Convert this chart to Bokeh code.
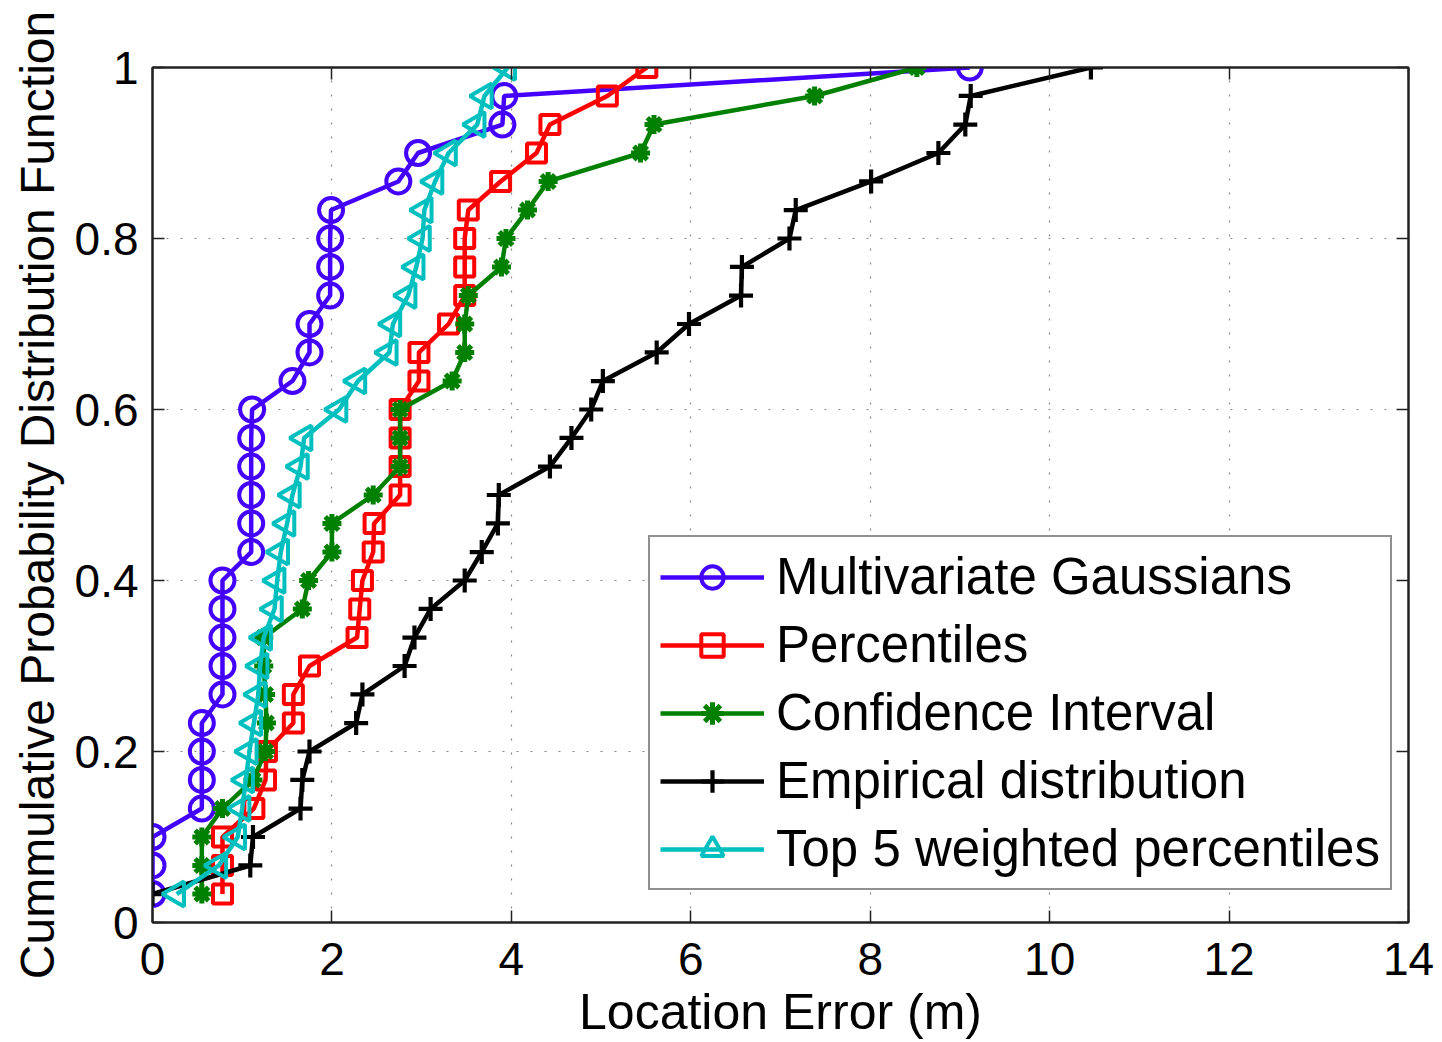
from bokeh.plotting import figure
from bokeh.models import LinearAxis, Legend, LegendItem, FixedTicker, Range1d, ColumnDataSource
from bokeh.embed import file_html
from bokeh.resources import INLINE

# Cumulative probability levels (k/30)
cdf = [0.0333, 0.0667, 0.1, 0.1333, 0.1667, 0.2, 0.2333, 0.2667, 0.3, 0.3333,
       0.3667, 0.4, 0.4333, 0.4667, 0.5, 0.5333, 0.5667, 0.6, 0.6333, 0.6667,
       0.7, 0.7333, 0.7667, 0.8, 0.8333, 0.8667, 0.9, 0.9333, 0.9667, 1.0]

gauss = [0.0, 0.0, 0.0, 0.55, 0.55, 0.55, 0.55, 0.78, 0.78, 0.78,
         0.78, 0.78, 1.10, 1.10, 1.10, 1.10, 1.10, 1.11, 1.56, 1.75,
         1.75, 1.98, 1.98, 1.98, 1.99, 2.74, 2.96, 3.90, 3.92, 9.11]

percentiles = [0.78, 0.78, 0.78, 1.13, 1.26, 1.27, 1.57, 1.57, 1.75, 2.28,
               2.31, 2.34, 2.46, 2.47, 2.76, 2.76, 2.76, 2.76, 2.97, 2.97,
               3.30, 3.48, 3.48, 3.48, 3.52, 3.88, 4.28, 4.43, 5.07, 5.51]

confidence = [0.55, 0.55, 0.55, 0.78, 1.12, 1.26, 1.27, 1.26, 1.24, 1.24,
              1.67, 1.74, 2.0, 2.0, 2.46, 2.76, 2.76, 2.76, 3.34, 3.48,
              3.48, 3.52, 3.89, 3.94, 4.18, 4.41, 5.44, 5.59, 7.38, 8.52]

empirical = [0.0, 1.09, 1.12, 1.65, 1.67, 1.75, 2.27, 2.34, 2.81, 2.92,
             3.10, 3.48, 3.67, 3.85, 3.86, 4.43, 4.67, 4.89, 5.02, 5.62,
             5.98, 6.56, 6.57, 7.10, 7.17, 8.01, 8.76, 9.06, 9.12, 10.46]

top5 = [0.27, 0.74, 0.95, 1.0, 1.04, 1.08, 1.13, 1.18, 1.20, 1.24,
        1.36, 1.39, 1.43, 1.50, 1.56, 1.65, 1.69, 2.08, 2.29, 2.64,
        2.68, 2.85, 2.94, 3.01, 3.03, 3.15, 3.30, 3.62, 3.70, 3.96]

names = ["Multivariate Gaussians", "Percentiles", "Confidence Interval",
         "Empirical distribution", "Top 5 weighted percentiles"]
x_ticks = [0, 2, 4, 6, 8, 10, 12, 14]
y_ticks = [0, 0.2, 0.4, 0.6, 0.8, 1]

FONT = "Liberation Sans"
DARK = "#222222"

p = figure(width=1442, height=1042, output_backend="svg", toolbar_location=None,
           x_range=Range1d(0, 14), y_range=Range1d(0, 1),
           min_border_left=152, min_border_right=34, min_border_top=67,
           min_border_bottom=120)
p.background_fill_color = "white"
p.border_fill_color = "white"
p.outline_line_color = DARK
p.outline_line_width = 2

for ax in (p.xaxis[0], p.yaxis[0]):
    ax.major_tick_in = 12
    ax.major_tick_out = 0
    ax.minor_tick_line_color = None
    ax.axis_line_color = DARK
    ax.axis_line_width = 2
    ax.major_tick_line_color = DARK
    ax.major_tick_line_width = 1.5
    ax.major_label_text_font = FONT
    ax.major_label_text_font_size = "46px"
    ax.major_label_text_color = "black"
    ax.axis_label_text_font = FONT
    ax.axis_label_text_font_style = "normal"
    ax.axis_label_text_color = "black"

p.xaxis.ticker = FixedTicker(ticks=x_ticks)
p.yaxis.ticker = FixedTicker(ticks=y_ticks)
p.yaxis.major_label_overrides = {0: "0", 1: "1"}
p.xaxis.axis_label = "Location Error (m)"
p.yaxis.axis_label = "Cummulative Probability Distribution Function"
p.xaxis.axis_label_text_font_size = "50px"
p.yaxis.axis_label_text_font_size = "48px"
p.xaxis.major_label_standoff = 20
p.yaxis.major_label_standoff = 14
p.xaxis.axis_label_standoff = 6
p.yaxis.axis_label_standoff = 8

for loc, tk in (("above", x_ticks), ("right", y_ticks)):
    ax = LinearAxis(ticker=FixedTicker(ticks=tk), major_tick_in=12, major_tick_out=0,
                    minor_tick_line_color=None, axis_line_color=DARK,
                    axis_line_width=2, major_tick_line_color=DARK,
                    major_tick_line_width=1.5, major_label_text_color=None,
                    major_label_standoff=0)
    p.add_layout(ax, loc)

p.xgrid.ticker = FixedTicker(ticks=x_ticks)
p.ygrid.ticker = FixedTicker(ticks=y_ticks)
p.grid.grid_line_color = "#888888"
p.grid.grid_line_dash = "2 12"
p.grid.grid_line_width = 1.2

LW = 4.5
series = [
    (gauss, "#4400ff", "circle", 24, 4.0, 0.0),
    (percentiles, "#ff0000", "square", 19, 4.0, 0.0),
    (confidence, "#008000", "asterisk", 19, 5.0, 0.0),
    (empirical, "#000000", "cross", 24, 4.2, 0.0),
    (top5, "#00bfbf", "triangle", 25, 4.0, 1.5708),
]

items = []
for (xs, color, marker, size, mlw, ang), name in zip(series, names):
    src = ColumnDataSource(dict(x=xs, y=cdf, ang=[ang] * len(xs)))
    ln = p.line("x", "y", source=src, line_color=color, line_width=LW)
    sc = p.scatter("x", "y", source=src, marker=marker, size=size, angle="ang",
                   angle_units="rad", line_color=color, line_width=mlw,
                   fill_color=None)
    items.append(LegendItem(label=name, renderers=[ln, sc]))

legend = Legend(items=items, location=(496, 32))
legend.label_text_font = FONT
legend.label_text_font_size = "51px"
legend.label_text_color = "black"
legend.glyph_width = 104
legend.glyph_height = 56
legend.label_height = 56
legend.label_standoff = 12
legend.spacing = 9
legend.padding = 10
legend.margin = 0
legend.border_line_color = DARK
legend.border_line_width = 2
legend.background_fill_alpha = 1.0
p.add_layout(legend, "center")

open("out.html", "w").write(file_html(p, INLINE))
